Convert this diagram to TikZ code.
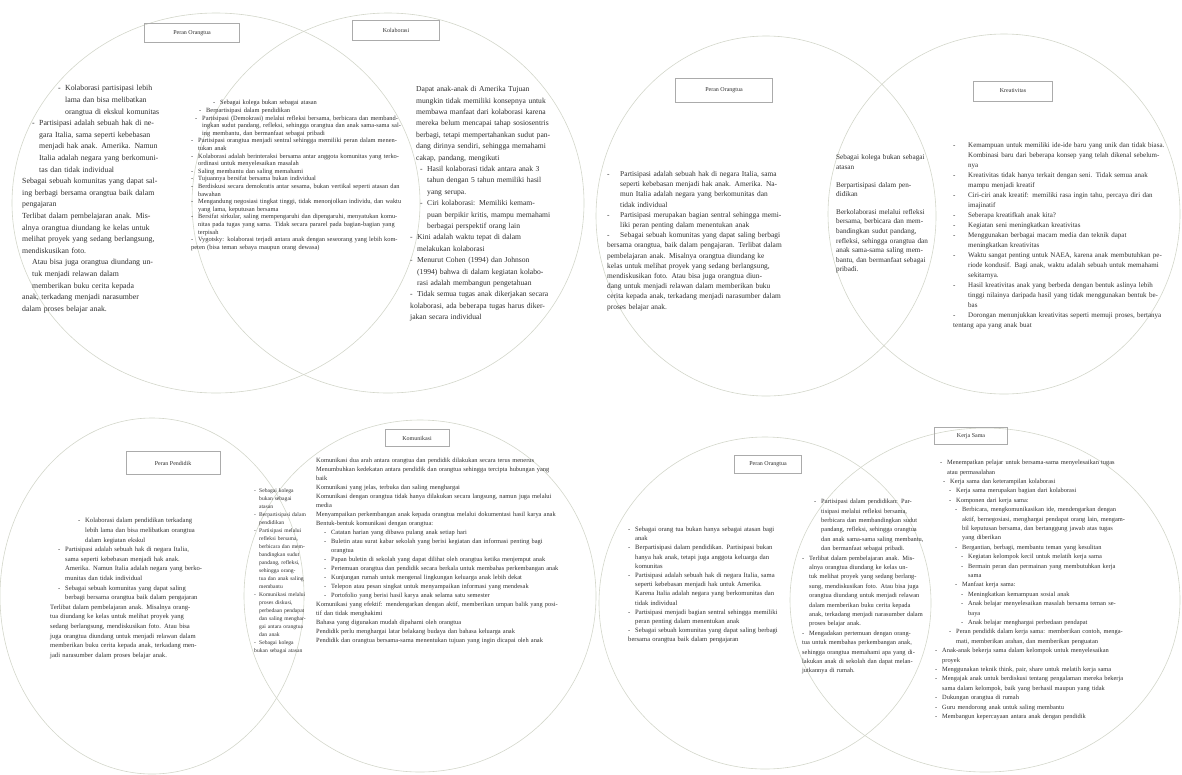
\documentclass[tikz,border=0pt]{standalone}
\usepackage{fontspec}
\setmainfont{Liberation Serif}
\definecolor{vennline}{HTML}{D3D6CA}
\definecolor{tagline}{HTML}{ABABAB}
\definecolor{notetext}{HTML}{2E2E2E}
\newlength\hw
\setlength\hw{7pt}
% list lines: optional left indent, then the text
\newcommand\itm[2][0pt]{\par\leftskip=#1\hangindent=\hw\hangafter=1\noindent\makebox[\hw][l]{-}#2}
\newcommand\pln[2][0pt]{\par\leftskip=#1\noindent #2}

\begin{document}
\begin{tikzpicture}[
  x=1pt,
  y=-1pt,
  ring/.style={draw=vennline,line width=0.6pt},
  tag/.style={draw=tagline,line width=0.5pt,inner sep=0pt,text=notetext,font=\fontsize{6}{7}\selectfont},
  note/.style={anchor=north west,inner sep=0pt,align=left,text=notetext}
]
  \useasboundingbox (0,0) rectangle (1182,774);

  % Four pairs of overlapping circles.
  \draw[ring] (216,203) ellipse [x radius=204pt,y radius=190pt];
  \draw[ring] (388,203) ellipse [x radius=196pt,y radius=190pt];
  \draw[ring] (766,216) ellipse [x radius=170pt,y radius=180pt];
  \draw[ring] (1004,214) ellipse [x radius=176pt,y radius=180pt];
  \draw[ring] (152,596) ellipse [x radius=152pt,y radius=178pt];
  \draw[ring] (420,596) ellipse [x radius=176pt,y radius=176pt];
  \draw[ring] (765,603) ellipse [x radius=166pt,y radius=166pt];
  \draw[ring] (985,600) ellipse [x radius=195pt,y radius=172pt];

  % Title boxes.
  \node[tag,minimum width=95pt,minimum height=19pt] (tagA) at (192,33) {Peran Orangtua};
  \node[tag,minimum width=87pt,minimum height=20pt] (tagB) at (396,30) {Kolaborasi};
  \node[tag,minimum width=97pt,minimum height=24pt] (tagC) at (724,90) {Peran Orangtua};
  \node[tag,minimum width=79pt,minimum height=20pt] (tagD) at (1013,91) {Kreativitas};
  \node[tag,minimum width=94pt,minimum height=23pt] (tagE) at (173,463) {Peran Pendidik};
  \node[tag,minimum width=64pt,minimum height=17pt] (tagF) at (417,438) {Komunikasi};
  \node[tag,minimum width=67pt,minimum height=18pt] (tagG) at (768,464) {Peran Orangtua};
  \node[tag,minimum width=73pt,minimum height=17pt] (tagH) at (971,436) {Kerja Sama};

  % Top left pair.
  \node[note,text width=138pt,font=\fontsize{7.8}{11.6}\selectfont] (notesA) at (22,79) {%
    \itm[36pt]{Kolaborasi partisipasi lebih lama dan bisa melibatkan orangtua di ekskul komunitas}
    \itm[10pt]{Partisipasi adalah sebuah hak di negara Italia, sama seperti kebebasan menjadi hak anak. Amerika. Namun Italia adalah negara yang berkomunitas dan tidak individual}
    \pln{Sebagai sebuah komunitas yang dapat saling berbagi bersama orangtua baik dalam pengajaran}
    \pln{Terlibat dalam pembelajaran anak. Misalnya orangtua diundang ke kelas untuk melihat proyek yang sedang berlangsung, mendiskusikan foto.}
    \pln[10pt]{Atau bisa juga orangtua diundang untuk menjadi relawan dalam}
    \pln[10pt]{memberikan buku cerita kepada}
    \pln[52pt]{anak, terkadang menjadi narasumber dalam proses belajar anak.}};
  \node[note,text width=212pt,font=\fontsize{6.4}{7.6}\selectfont] (notesAB) at (191,97) {%
    \itm[22pt]{Sebagai kolega bukan sebagai atasan}
    \itm[8pt]{Berpartisipasi dalam pendidikan}
    \itm[4pt]{Partisipasi (Demokrasi) melalui refleksi bersama, berbicara dan membandingkan sudut pandang, refleksi, sehingga orangtua dan anak sama-sama saling membantu, dan bermanfaat sebagai pribadi}
    \itm{Partisipasi orangtua menjadi sentral sehingga memiliki peran dalam menentukan anak}
    \itm{Kolaborasi adalah berinteraksi bersama antar anggota komunitas yang terkoordinasi untuk menyelesaikan masalah}
    \itm{Saling membantu dan saling memahami}
    \itm{Tujuannya bersifat bersama bukan individual}
    \itm{Berdiskusi secara demokratis antar sesama, bukan vertikal seperti atasan dan bawahan}
    \itm{Mengandung negosiasi tingkat tinggi, tidak menonjolkan individu, dan waktu yang lama, keputusan bersama}
    \itm{Bersifat sirkular, saling mempengaruhi dan dipengaruhi, menyatukan komunitas pada tugas yang sama. Tidak secara pararel pada bagian-bagian yang terpisah}
    \itm[14pt]{Vygotsky: kolaborasi terjadi antara anak dengan seseorang yang lebih kompeten (bisa teman sebaya maupun orang dewasa)}};
  \node[note,text width=142pt,font=\fontsize{7.6}{11.4}\selectfont] (notesB) at (410,80) {%
    \pln[6pt]{Dapat anak-anak di Amerika Tujuan mungkin tidak memiliki konsepnya untuk membawa manfaat dari kolaborasi karena mereka belum mencapai tahap sosiosentris berbagi, tetapi mempertahankan sudut pandang dirinya sendiri, sehingga memahami cakap, pandang, mengikuti}
    \itm[10pt]{Hasil kolaborasi tidak antara anak 3 tahun dengan 5 tahun memiliki hasil yang serupa.}
    \itm[10pt]{Ciri kolaborasi: Memiliki kemampuan berpikir kritis, mampu memahami berbagai perspektif orang lain}
    \itm{Kini adalah waktu tepat di dalam melakukan kolaborasi}
    \itm{Menurut Cohen (1994) dan Johnson (1994) bahwa di dalam kegiatan kolaborasi adalah membangun pengetahuan}
    \itm{Tidak semua tugas anak dikerjakan secara kolaborasi, ada beberapa tugas harus dikerjakan secara individual}};

  % Top right pair.
  \node[note,text width=176pt,font=\fontsize{7.4}{10.2}\selectfont] (notesC) at (607,166) {\setlength\hw{13pt}%
    \itm{Partisipasi adalah sebuah hak di negara Italia, sama seperti kebebasan menjadi hak anak. Amerika. Namun Italia adalah negara yang berkomunitas dan tidak individual}
    \itm{Partisipasi merupakan bagian sentral sehingga memiliki peran penting dalam menentukan anak}
    \itm{Sebagai sebuah komunitas yang dapat saling berbagi bersama orangtua, baik dalam pengajaran. Terlibat dalam pembelajaran anak. Misalnya orangtua diundang ke kelas untuk melihat proyek yang sedang berlangsung, mendiskusikan foto. Atau bisa juga orangtua diundang untuk menjadi relawan dalam memberikan buku cerita kepada anak, terkadang menjadi narasumber dalam proses belajar anak.}};
  \node[note,text width=92pt,font=\fontsize{7.2}{9.6}\selectfont] (notesCD) at (836,150) {%
    \pln{Sebagai kolega bukan sebagai atasan}\par\vspace{8pt}
    \pln{Berpartisipasi dalam pendidikan}\par\vspace{8pt}
    \pln{Berkolaborasi melalui refleksi bersama, berbicara dan membandingkan sudut pandang, refleksi, sehingga orangtua dan anak sama-sama saling membantu, dan bermanfaat sebagai pribadi.}};
  \node[note,text width=214pt,font=\fontsize{7}{10}\selectfont] (notesD) at (953,137) {\setlength\hw{15pt}%
    \itm{Kemampuan untuk memiliki ide-ide baru yang unik dan tidak biasa. Kombinasi baru dari beberapa konsep yang telah dikenal sebelumnya}
    \itm{Kreativitas tidak hanya terkait dengan seni. Tidak semua anak mampu menjadi kreatif}
    \itm{Ciri-ciri anak kreatif: memiliki rasa ingin tahu, percaya diri dan imajinatif}
    \itm{Seberapa kreatifkah anak kita?}
    \itm{Kegiatan seni meningkatkan kreativitas}
    \itm{Menggunakan berbagai macam media dan teknik dapat meningkatkan kreativitas}
    \itm{Waktu sangat penting untuk NAEA, karena anak membutuhkan periode kondusif. Bagi anak, waktu adalah sebuah untuk memahami sekitarnya.}
    \itm{Hasil kreativitas anak yang berbeda dengan bentuk aslinya lebih tinggi nilainya daripada hasil yang tidak menggunakan bentuk bebas}
    \itm{Dorongan menunjukkan kreativitas seperti memuji proses, bertanya tentang apa yang anak buat}};

  % Bottom left pair.
  \node[note,text width=152pt,font=\fontsize{6.6}{9.6}\selectfont] (notesE) at (50,513) {%
    \itm[28pt]{Kolaborasi dalam pendidikan terkadang lebih lama dan bisa melibatkan orangtua dalam kegiatan ekskul}
    \itm[8pt]{Partisipasi adalah sebuah hak di negara Italia, sama seperti kebebasan menjadi hak anak. Amerika. Namun Italia adalah negara yang berkomunitas dan tidak individual}
    \itm[8pt]{Sebagai sebuah komunitas yang dapat saling berbagi bersama orangtua baik dalam pengajaran}
    \pln[12pt]{Terlibat dalam pembelajaran anak. Misalnya orangtua diundang ke kelas untuk melihat proyek yang sedang berlangsung, mendiskusikan foto. Atau bisa juga orangtua diundang untuk menjadi relawan dalam memberikan buku cerita kepada anak, terkadang menjadi narasumber dalam proses belajar anak.}};
  \node[note,text width=52pt,font=\fontsize{5.6}{8}\selectfont] (notesEF) at (254,484) {\setlength\hw{5pt}%
    \itm{Sebagai kolega bukan sebagai atasan}
    \itm{Berpartisipasi dalam pendidikan}
    \itm{Partisipasi melalui refleksi bersama, berbicara dan membandingkan sudut pandang, refleksi, sehingga orangtua dan anak saling membantu}
    \itm{Komunikasi melalui proses diskusi, perbedaan pendapat dan saling menghargai antara orangtua dan anak}
    \itm{Sebagai kolega bukan sebagai atasan}};
  \node[note,text width=244pt,font=\fontsize{6.4}{9}\selectfont] (notesF) at (316,453) {%
    \pln{Komunikasi dua arah antara orangtua dan pendidik dilakukan secara terus menerus}
    \pln{Menumbuhkan kedekatan antara pendidik dan orangtua sehingga tercipta hubungan yang baik}
    \pln{Komunikasi yang jelas, terbuka dan saling menghargai}
    \pln{Komunikasi dengan orangtua tidak hanya dilakukan secara langsung, namun juga melalui media}
    \pln{Menyampaikan perkembangan anak kepada orangtua melalui dokumentasi hasil karya anak}
    \pln{Bentuk-bentuk komunikasi dengan orangtua:}
    \itm[8pt]{Catatan harian yang dibawa pulang anak setiap hari}
    \itm[8pt]{Buletin atau surat kabar sekolah yang berisi kegiatan dan informasi penting bagi orangtua}
    \itm[8pt]{Papan buletin di sekolah yang dapat dilihat oleh orangtua ketika menjemput anak}
    \itm[8pt]{Pertemuan orangtua dan pendidik secara berkala untuk membahas perkembangan anak}
    \itm[8pt]{Kunjungan rumah untuk mengenal lingkungan keluarga anak lebih dekat}
    \itm[8pt]{Telepon atau pesan singkat untuk menyampaikan informasi yang mendesak}
    \itm[8pt]{Portofolio yang berisi hasil karya anak selama satu semester}
    \pln{Komunikasi yang efektif: mendengarkan dengan aktif, memberikan umpan balik yang positif dan tidak menghakimi}
    \pln{Bahasa yang digunakan mudah dipahami oleh orangtua}
    \pln{Pendidik perlu menghargai latar belakang budaya dan bahasa keluarga anak}
    \pln{Pendidik dan orangtua bersama-sama menentukan tujuan yang ingin dicapai oleh anak}};

  % Bottom right pair.
  \node[note,text width=150pt,font=\fontsize{6.6}{9.2}\selectfont] (notesG) at (628,522) {%
    \itm{Sebagai orang tua bukan hanya sebagai atasan bagi anak}
    \itm{Berpartisipasi dalam pendidikan. Partisipasi bukan hanya hak anak, tetapi juga anggota keluarga dan komunitas}
    \itm{Partisipasi adalah sebuah hak di negara Italia, sama seperti kebebasan menjadi hak untuk Amerika. Karena Italia adalah negara yang berkomunitas dan tidak individual}
    \itm{Partisipasi menjadi bagian sentral sehingga memiliki peran penting dalam menentukan anak}
    \itm{Sebagai sebuah komunitas yang dapat saling berbagi bersama orangtua baik dalam pengajaran}};
  \node[note,text width=122pt,font=\fontsize{6.4}{9.4}\selectfont] (notesGH) at (802,494) {%
    \itm[12pt]{Partisipasi dalam pendidikan: Partisipasi melalui refleksi bersama, berbicara dan membandingkan sudut pandang, refleksi, sehingga orangtua dan anak sama-sama saling membantu, dan bermanfaat sebagai pribadi.}
    \itm{Terlibat dalam pembelajaran anak. Misalnya orangtua diundang ke kelas untuk melihat proyek yang sedang berlangsung, mendiskusikan foto. Atau bisa juga orangtua diundang untuk menjadi relawan dalam memberikan buku cerita kepada anak, terkadang menjadi narasumber dalam proses belajar anak.}
    \itm{Mengadakan pertemuan dengan orangtua untuk membahas perkembangan anak, sehingga orangtua memahami apa yang dilakukan anak di sekolah dan dapat melanjutkannya di rumah.}};
  \node[note,text width=190pt,font=\fontsize{6.4}{9.4}\selectfont] (notesH) at (935,455) {%
    \itm[5pt]{Menempatkan pelajar untuk bersama-sama menyelesaikan tugas atau permasalahan}
    \itm[8pt]{Kerja sama dan keterampilan kolaborasi}
    \itm[14pt]{Kerja sama merupakan bagian dari kolaborasi}
    \itm[14pt]{Komponen dari kerja sama:}
    \itm[20pt]{Berbicara, mengkomunikasikan ide, mendengarkan dengan aktif, bernegosiasi, menghargai pendapat orang lain, mengambil keputusan bersama, dan bertanggung jawab atas tugas yang diberikan}
    \itm[20pt]{Bergantian, berbagi, membantu teman yang kesulitan}
    \itm[26pt]{Kegiatan kelompok kecil untuk melatih kerja sama}
    \itm[26pt]{Bermain peran dan permainan yang membutuhkan kerja sama}
    \itm[20pt]{Manfaat kerja sama:}
    \itm[26pt]{Meningkatkan kemampuan sosial anak}
    \itm[26pt]{Anak belajar menyelesaikan masalah bersama teman sebaya}
    \itm[26pt]{Anak belajar menghargai perbedaan pendapat}
    \itm[14pt]{Peran pendidik dalam kerja sama: memberikan contoh, mengamati, memberikan arahan, dan memberikan penguatan}
    \itm{Anak-anak bekerja sama dalam kelompok untuk menyelesaikan proyek}
    \itm{Menggunakan teknik think, pair, share untuk melatih kerja sama}
    \itm{Mengajak anak untuk berdiskusi tentang pengalaman mereka bekerja sama dalam kelompok, baik yang berhasil maupun yang tidak}
    \itm{Dukungan orangtua di rumah}
    \itm{Guru mendorong anak untuk saling membantu}
    \itm{Membangun kepercayaan antara anak dengan pendidik}};
\end{tikzpicture}
\end{document}
